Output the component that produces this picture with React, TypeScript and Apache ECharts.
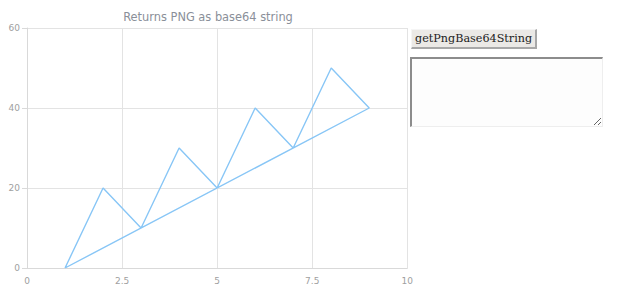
import React, { useEffect, useRef } from "react";
import * as echarts from "echarts";

const titleText = "Returns PNG as base64 string";
const xValues = [1, 2, 3, 4, 5, 6, 7, 8, 9, 1];
const yValues = [0, 20, 10, 30, 20, 40, 30, 50, 40, 0];
const buttonLabel = "getPngBase64String";

export default function App() {
  const chartRef = useRef<HTMLDivElement>(null);

  useEffect(() => {
    if (!chartRef.current) return;
    const chart = echarts.init(chartRef.current, undefined, { renderer: "svg" });
    const points = xValues.map((x, i) => [x, yValues[i]]);
    chart.setOption({
      animation: false,
      title: {
        text: titleText,
        left: "center",
        top: 6,
        textStyle: { fontSize: 11.4, fontWeight: "normal", color: "#8a8f99", fontFamily: "DejaVu Sans" },
      },
      grid: { left: 27, right: 8, top: 28, bottom: 32 },
      xAxis: {
        type: "value",
        min: 0,
        max: 10,
        interval: 2.5,
        axisLine: { lineStyle: { color: "#d9d9d9" } },
        axisTick: { show: false },
        axisLabel: { color: "#a0a0a0", fontSize: 9, fontFamily: "DejaVu Sans", margin: 8 },
        splitLine: { lineStyle: { color: "#e3e3e3" } },
      },
      yAxis: {
        type: "value",
        min: 0,
        max: 60,
        interval: 20,
        axisLine: { show: true, lineStyle: { color: "#d9d9d9" } },
        axisTick: { show: true, length: 5, lineStyle: { color: "#d9d9d9" } },
        axisLabel: { color: "#a0a0a0", fontSize: 9, fontFamily: "DejaVu Sans", margin: 7 },
        splitLine: { lineStyle: { color: "#e3e3e3" } },
      },
      series: [
        {
          type: "line",
          data: points,
          showSymbol: false,
          lineStyle: { color: "#88c6f6", width: 1.4 },
          itemStyle: { color: "#88c6f6" },
        },
      ],
    });
    return () => chart.dispose();
  }, []);

  return (
    <div>
      <div
        ref={chartRef}
        style={{ position: "absolute", left: 0, top: 0, width: 416, height: 300 }}
      />
      <button
        style={{
          position: "absolute",
          left: 411,
          top: 29,
          height: 20,
          padding: "0 3px",
          fontFamily: "DejaVu Serif",
          fontSize: 11.2,
          color: "#222",
          background: "#ebe9e6",
          borderStyle: "solid",
          borderWidth: "1px 2px 2px 1px",
          borderColor: "#f5f5f5 #a8a8a8 #a8a8a8 #f5f5f5",
          borderRadius: 0,
        }}
      >
        {buttonLabel}
      </button>
      <textarea
        style={{
          position: "absolute",
          left: 410,
          top: 57,
          width: 190,
          height: 67,
          padding: 0,
          margin: 0,
          borderStyle: "solid",
          borderWidth: "2px 1px 1px 2px",
          borderColor: "#8c8c8c #eeeeee #eeeeee #8c8c8c",
          background: "#fdfdfd",
        }}
      />
    </div>
  );
}
